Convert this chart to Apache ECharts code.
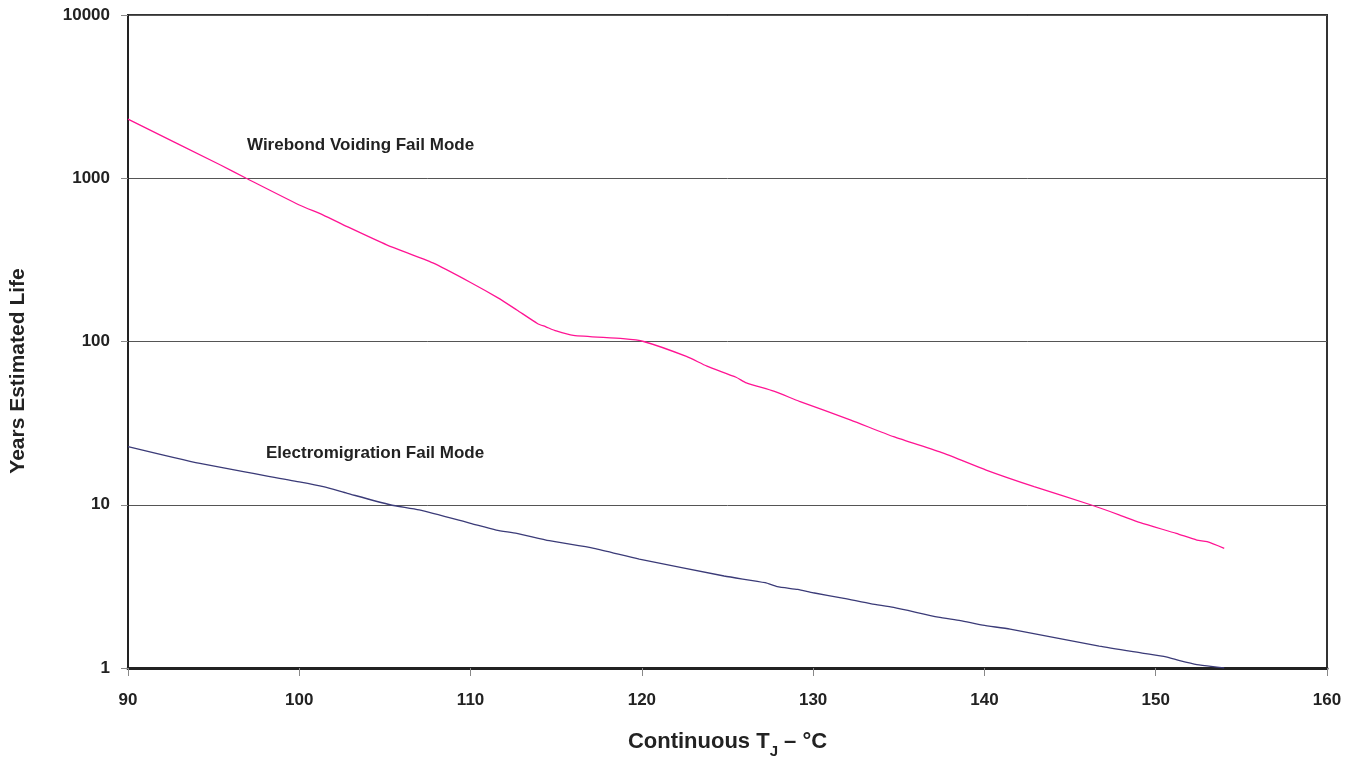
<!DOCTYPE html>
<html>
<head>
<meta charset="utf-8">
<script src="https://cdn.jsdelivr.net/npm/echarts@6/dist/echarts.min.js"></script>
<style>html,body{margin:0;padding:0;background:#fff}#c{width:1352px;height:758px}</style>
</head>
<body>
<div id="c"></div>
<script>
// Wirebond voiding fail mode
var wirebondT = [90, 95.4, 96.9, 100, 101.4, 102.8, 105.1, 107.8, 110.0, 111.6, 112.7, 113.9, 114.4, 115.0, 116.0, 118.9, 120.1, 122.6, 123.8, 125.5, 126.1, 127.7, 129.2, 132.2, 134.7, 137.6, 140.1, 142.9, 146.2, 147.9, 149.1, 151.2, 152.4, 153.0, 154.0];
var wirebondYears = [2300, 1205, 1000, 686, 595, 505, 391, 303, 230, 185, 156, 129, 123, 116, 109, 104, 100, 81, 70.6, 60.4, 55.8, 49.6, 43, 33, 26.1, 20.7, 16.3, 12.9, 10, 8.65, 7.76, 6.68, 6.08, 5.94, 5.41];
// Electromigration fail mode
var emT = [90, 94.2, 100, 101.4, 102.8, 105.3, 107.0, 110.0, 111.5, 112.7, 114.6, 117.2, 119.85, 124.8, 127.2, 127.9, 129.1, 130.0, 131.8, 133.4, 134.7, 137.3, 138.6, 139.9, 141.5, 146.7, 149.3, 150.6, 151.4, 152.4, 153.7, 154.0];
var emYears = [22.7, 17.9, 13.8, 12.9, 11.75, 10, 9.3, 7.7, 7.0, 6.68, 6.02, 5.41, 4.65, 3.66, 3.33, 3.15, 3.03, 2.89, 2.67, 2.47, 2.35, 2.05, 1.95, 1.83, 1.73, 1.36, 1.23, 1.17, 1.11, 1.05, 1.01, 1.0];
var xTicks = [90, 100, 110, 120, 130, 140, 150, 160];
var yTicks = [1, 10, 100, 1000, 10000];
var seriesNames = ['Wirebond Voiding Fail Mode', 'Electromigration Fail Mode'];
var xTitle = 'Continuous T';
var xTitleSub = 'J';
var xTitleEnd = ' – °C';
var yTitle = 'Years Estimated Life';

function pairs(xs, ys) { return xs.map(function (x, i) { return [x, ys[i]]; }); }

var FONT = '"Liberation Sans", Arial, sans-serif';
var chart = echarts.init(document.getElementById('c'), null, {renderer: 'canvas'});
chart.setOption({
  animation: false,
  backgroundColor: '#fff',
  grid: {left: 128, right: 25, top: 15, bottom: 90, show: true, borderColor: '#333', borderWidth: 2,
    backgroundColor: 'transparent', containLabel: false, outerBoundsMode: 'none'},
  xAxis: {
    type: 'value', min: xTicks[0], max: xTicks[xTicks.length - 1], interval: 10,
    name: '{a|' + xTitle + '}{s|' + xTitleSub + '}{a|' + xTitleEnd + '}',
    nameLocation: 'middle', nameGap: 59,
    nameTextStyle: {
      rich: {
        a: {fontFamily: FONT, fontWeight: 'bold', fontSize: 22, color: '#222', verticalAlign: 'bottom', lineHeight: 26},
        s: {fontFamily: FONT, fontWeight: 'bold', fontSize: 15, color: '#222', verticalAlign: 'bottom', lineHeight: 19, padding: [0, 0, -6, 0]}
      }
    },
    axisLine: {show: true, lineStyle: {color: '#222', width: 3}},
    axisTick: {show: true, length: 8, lineStyle: {color: '#888', width: 1}},
    axisLabel: {margin: 24, fontFamily: FONT, fontWeight: 'bold', fontSize: 17, color: '#222'},
    splitLine: {show: false}
  },
  yAxis: {
    type: 'log', logBase: 10, min: yTicks[0], max: yTicks[yTicks.length - 1],
    axisLine: {show: true, lineStyle: {color: '#222', width: 2}},
    axisTick: {show: true, length: 7, lineStyle: {color: '#888', width: 1}},
    minorTick: {show: false},
    axisLabel: {margin: 18, fontFamily: FONT, fontWeight: 'bold', fontSize: 17, color: '#222',
      formatter: function (v) { return String(Math.round(v)); }},
    splitLine: {show: true, lineStyle: {color: '#555', width: 1}}
  },
  series: [
    {
      name: seriesNames[0], type: 'line', data: pairs(wirebondT, wirebondYears),
      showSymbol: false, symbol: 'none', smooth: 0.2,
      lineStyle: {color: '#FF1493', width: 1.3}, z: 5
    },
    {
      name: seriesNames[1], type: 'line', data: pairs(emT, emYears),
      showSymbol: false, symbol: 'none', smooth: 0.2,
      lineStyle: {color: '#3B3B78', width: 1.3}, z: 5
    }
  ],
  graphic: [
    {type: 'text', left: 247, top: 137, style: {text: seriesNames[0], font: 'bold 17px ' + FONT, fill: '#222'}},
    {type: 'text', left: 266, top: 445, style: {text: seriesNames[1], font: 'bold 17px ' + FONT, fill: '#222'}},
    {type: 'text', x: 18, y: 371, rotation: Math.PI / 2,
      style: {text: yTitle, font: 'bold 21px ' + FONT, fill: '#222', align: 'center', verticalAlign: 'middle'}}
  ]
});
</script>
</body>
</html>
